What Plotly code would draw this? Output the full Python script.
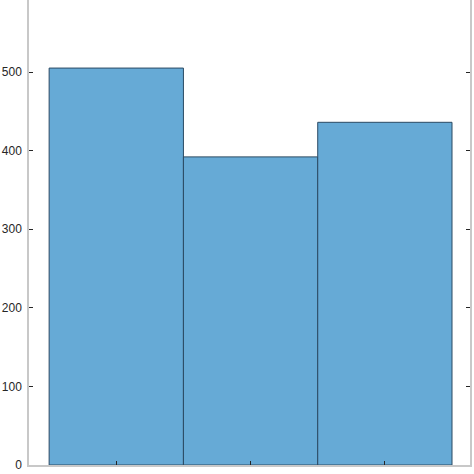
import plotly.graph_objects as go

# histogram bin centres and counts
bins = [1, 2, 3]
counts = [505, 392, 436]
y_ticks = [0, 100, 200, 300, 400, 500]

fig = go.Figure()
fig.add_trace(go.Bar(
    x=bins,
    y=counts,
    width=1,
    marker=dict(color='#66aad6', line=dict(color='#2b4a63', width=1)),
))

fig.update_layout(
    width=474, height=474,
    margin=dict(l=29, r=4, t=0, b=9),
    plot_bgcolor='white',
    paper_bgcolor='white',
    showlegend=False,
    font=dict(family='Liberation Sans, Arial, sans-serif', size=12, color='#262626'),
)
fig.update_xaxes(
    range=[0.35, 3.634],
    tickvals=bins,
    ticktext=['', '', ''],
    ticks='inside', ticklen=4, tickcolor='#262626',
    showline=True, linecolor='#c8c8c8', linewidth=1.5,
    showgrid=False, zeroline=False, mirror=False,
)
fig.update_yaxes(
    range=[0, 591.6],
    tickvals=y_ticks,
    ticks='inside', ticklen=4, tickcolor='#262626',
    ticklabelstandoff=3,
    showline=True, linecolor='#c8c8c8', linewidth=1.5,
    showgrid=False, zeroline=False, mirror='ticks',
    automargin=False,
)

# drop the page's default body margin so the figure sits at the corner
fig.write_html(
    "out.html",
    config={'displayModeBar': False},
    post_script="document.body.style.margin='0';document.body.style.overflow='hidden';",
)
